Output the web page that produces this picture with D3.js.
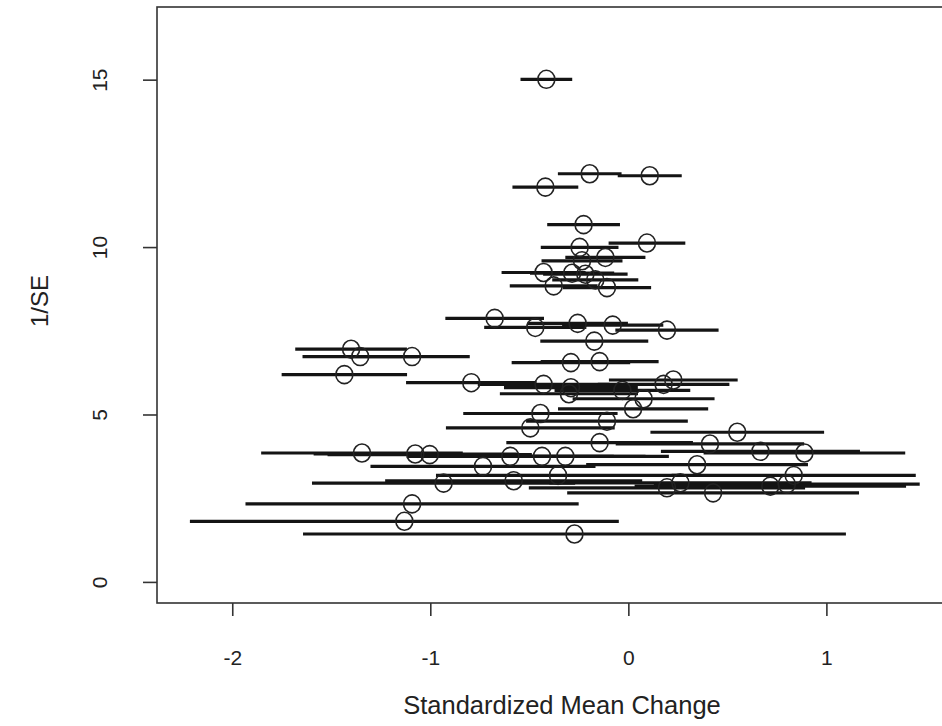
<!DOCTYPE html>
<html>
<head>
<meta charset="utf-8">
<script src="https://cdn.jsdelivr.net/npm/d3@7"></script>
<style>
  html, body { margin: 0; padding: 0; background: #fff; }
  svg { display: block; }
  text { font-family: "Liberation Sans", Arial, sans-serif; fill: #222; }
</style>
</head>
<body>
<div id="chart"></div>
<script>
// Standardized mean change per study
const smc = [
  -0.414, -0.195, 0.108, -0.419, -0.226, 0.094, -0.246, -0.116, -0.234, -0.428,
  -0.284, -0.217, -0.167, -0.377, -0.108, -0.675, -0.470, -0.256, -0.079, 0.195,
  -0.172, -1.400, -1.354, -1.092, -1.434, -0.290, -0.145, -0.793, -0.428, -0.290,
  -0.300, -0.030, 0.178, 0.227, 0.077, 0.024, -0.444, -0.108, -0.495, 0.550,
  -0.145, 0.412, -1.345, -1.076, -1.003, -0.596, -0.436, -0.318, 0.667, 0.889,
  -0.734, 0.347, -0.355, 0.835, -0.933, -0.579, 0.195, 0.263, 0.428, 0.717,
  0.800, -1.092, -1.131, -0.272
];
// precision (1/SE) per study
const invSE = [
  15.01, 12.19, 12.13, 11.79, 10.67, 10.12, 9.99, 9.69, 9.59, 9.24,
  9.22, 9.19, 9.02, 8.84, 8.79, 7.87, 7.60, 7.72, 7.67, 7.52,
  7.19, 6.95, 6.73, 6.73, 6.19, 6.55, 6.58, 5.95, 5.90, 5.80,
  5.62, 5.72, 5.90, 6.03, 5.47, 5.17, 5.03, 4.80, 4.60, 4.47,
  4.16, 4.12, 3.85, 3.82, 3.80, 3.75, 3.75, 3.75, 3.90, 3.85,
  3.45, 3.50, 3.18, 3.18, 2.95, 3.02, 2.81, 2.96, 2.66, 2.86,
  2.92, 2.33, 1.81, 1.43
];
const xTicks = [-2, -1, 0, 1];
const yTicks = [0, 5, 10, 15];
const z = 1.96;

const width = 942, height = 726;
const svg = d3.select('#chart').append('svg')
    .attr('width', width)
    .attr('height', height);

const x = d3.scaleLinear().domain([-2.38, 1.71]).range([157, 967]);
const y = d3.scaleLinear().domain([-0.63, 17.17]).range([603, 7]);

const data = smc.map((d, i) => ({ x: d, y: invSE[i], se: 1 / invSE[i] }));

// plot frame
svg.append('rect')
    .attr('x', x.range()[0]).attr('y', y.range()[1])
    .attr('width', x.range()[1] - x.range()[0])
    .attr('height', y.range()[0] - y.range()[1])
    .attr('fill', 'none')
    .attr('stroke', '#333')
    .attr('stroke-width', 1.6);

// axes
const xAxis = d3.axisBottom(x).tickValues(xTicks).tickSize(13).tickPadding(34)
    .tickFormat(d => d < 0 ? '-' + Math.abs(d) : d);
const gx = svg.append('g').attr('transform', `translate(0,${y.range()[0]})`).call(xAxis);
gx.select('.domain').remove();
gx.selectAll('line').attr('stroke', '#333').attr('stroke-width', 1.6);
gx.selectAll('text').style('font-size', '21px').attr('fill', '#222');

const yAxis = d3.axisLeft(y).tickValues(yTicks).tickSize(14).tickFormat(d => d);
const gy = svg.append('g').attr('transform', `translate(${x.range()[0]},0)`).call(yAxis);
gy.select('.domain').remove();
gy.selectAll('line').attr('stroke', '#333').attr('stroke-width', 1.6);
gy.selectAll('text')
    .attr('x', null).attr('dy', null)
    .attr('text-anchor', 'middle')
    .attr('transform', 'translate(-57,0) rotate(-90)')
    .attr('dy', '0.35em')
    .style('font-size', '21px').attr('fill', '#222');

// axis titles
svg.append('text')
    .attr('x', 562).attr('y', 714)
    .attr('text-anchor', 'middle')
    .style('font-size', '25.5px')
    .text('Standardized Mean Change');

svg.append('text')
    .attr('transform', `translate(48,${(y.range()[0] + y.range()[1]) / 2 - 4}) rotate(-90)`)
    .attr('text-anchor', 'middle')
    .style('font-size', '24px')
    .text('1/SE');

// confidence intervals
const plot = svg.append('g');
plot.selectAll('line.ci')
    .data(data)
    .join('line')
    .attr('class', 'ci')
    .attr('x1', d => x(d.x - z * d.se))
    .attr('x2', d => x(d.x + z * d.se))
    .attr('y1', d => y(d.y))
    .attr('y2', d => y(d.y))
    .attr('stroke', '#141414')
    .attr('stroke-width', 3.2);

// points
plot.selectAll('ellipse')
    .data(data)
    .join('ellipse')
    .attr('cx', d => x(d.x))
    .attr('cy', d => y(d.y))
    .attr('rx', 8.5)
    .attr('ry', 9)
    .attr('fill', 'none')
    .attr('stroke', '#222')
    .attr('stroke-width', 1.6);
</script>
</body>
</html>
